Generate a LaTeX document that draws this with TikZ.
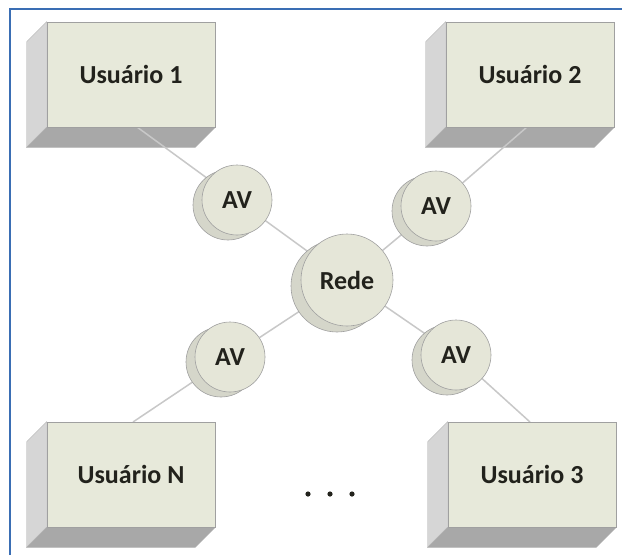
\documentclass[tikz,border=0pt]{standalone}
\usepackage{fontspec}
\setmainfont{Carlito}
\usetikzlibrary{backgrounds}
\definecolor{facecol}{HTML}{E7E9DA}
\definecolor{leftcol}{HTML}{D6D6D6}
\definecolor{botcol}{HTML}{A8A8A8}
\definecolor{circcol}{HTML}{E5E6D8}
\definecolor{shadcol}{HTML}{D5D6CA}
\definecolor{edgecol}{HTML}{A0A0A0}
\definecolor{linkcol}{HTML}{C8C8C8}
\definecolor{framecol}{HTML}{3A6EB4}
\definecolor{txtcol}{HTML}{22221C}
\tikzset{
  labelfont/.style={font=\bfseries\fontsize{26}{30}\selectfont, text=txtcol},
  userface/.style={draw=edgecol, line width=0.6pt, fill=facecol, minimum width=168pt, minimum height=105pt, inner sep=0pt, labelfont},
  leftface/.style={fill=leftcol, draw=edgecol!80, line width=0.4pt},
  botface/.style={fill=botcol, draw=edgecol!80, line width=0.4pt},
  avnode/.style={circle, draw=edgecol, line width=0.6pt, fill=circcol, minimum size=70pt, inner sep=0pt, labelfont},
  avshadow/.style={circle, draw=edgecol, line width=0.6pt, fill=shadcol, minimum size=70pt, inner sep=0pt},
  redenode/.style={avnode, minimum size=92pt},
  redeshadow/.style={avshadow, minimum size=92pt},
  link/.style={draw=linkcol, line width=1.5pt},
  frameline/.style={draw=framecol, line width=2pt}
}
\newcommand\boxsides[1]{%
  \path[leftface] (#1.north west) -- ++(-20,20) -- ([shift={(-20,20)}]#1.south west) -- (#1.south west) -- cycle;
  \path[botface] (#1.south west) -- ++(-20,20) -- ([shift={(-20,20)}]#1.south east) -- (#1.south east) -- cycle;}
\begin{document}
\begin{tikzpicture}[x=1pt,y=-1pt]
\useasboundingbox (0,0) rectangle (622,555);

% user boxes (front faces)
\node[userface] (u1) at (131,74.5) {Usuário 1};
\node[userface] (u2) at (530,74.5) {Usuário 2};
\node[userface] (un) at (131,474.5) {Usuário N};
\node[userface] (u3) at (532,474.5) {Usuário 3};

% connector end points on the boxes
\coordinate (c1) at (137,127);
\coordinate (c2) at (527,127);
\coordinate (cn) at (133,422);
\coordinate (c3) at (530,422);

% circles
\node[redeshadow] (redes) at (337,286) {};
\node[redenode] (rede) at (347,280) {Rede};
\node[avshadow] (av1s) at (228,205) {};
\node[avnode] (av1) at (237,200) {AV};
\node[avshadow] (av2s) at (427,211) {};
\node[avnode] (av2) at (436,206) {AV};
\node[avshadow] (avns) at (221,362) {};
\node[avnode] (avn) at (230,357) {AV};
\node[avshadow] (av3s) at (447,360) {};
\node[avnode] (av3) at (456,355) {AV};

% dots
\fill[txtcol] (308,494) circle (2.6pt);
\fill[txtcol] (330,494) circle (2.6pt);
\fill[txtcol] (352,494) circle (2.6pt);

\begin{pgfonlayer}{background}
\fill[white] (0,0) rectangle (622,555);
\draw[frameline] (10,555) -- (10,9) -- (622,9);
\boxsides{u1}
\boxsides{u2}
\boxsides{un}
\boxsides{u3}
\draw[link] (c1) -- (av1) -- (rede);
\draw[link] (c2) -- (av2) -- (rede);
\draw[link] (cn) -- (avn) -- (rede);
\draw[link] (c3) -- (av3) -- (rede);
\end{pgfonlayer}
\end{tikzpicture}
\end{document}
